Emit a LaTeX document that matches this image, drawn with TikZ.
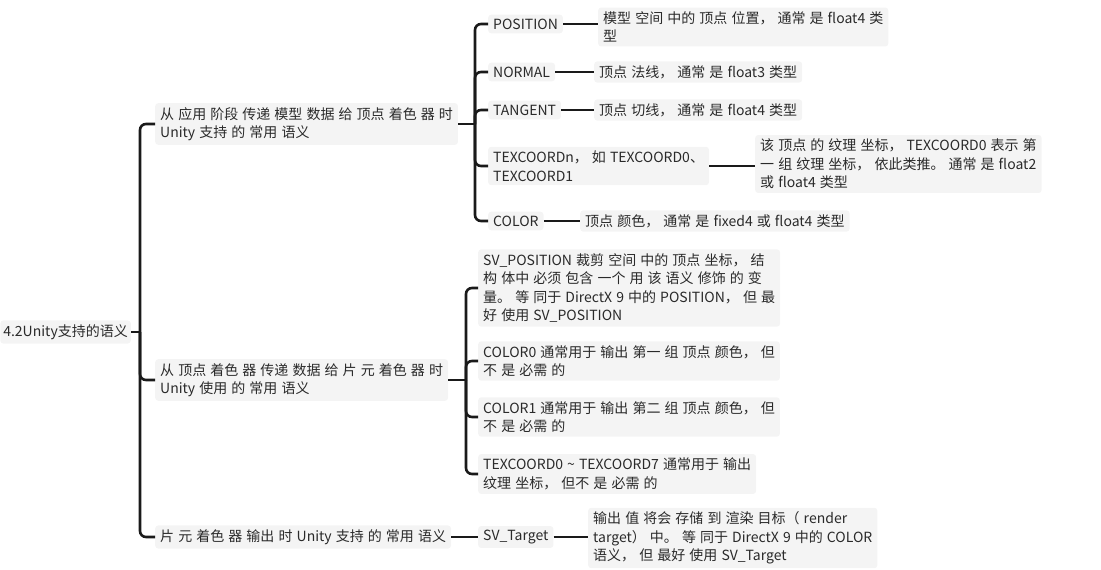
\documentclass[tikz,border=0pt]{standalone}
\usepackage{fontspec}
\setmainfont[WordSpace=1.3]{Noto Sans CJK SC}
\definecolor{txt}{HTML}{2A2A2A}
\definecolor{ln}{HTML}{1A1A1A}
\definecolor{boxbg}{HTML}{F4F4F4}
\begin{document}
\begin{tikzpicture}[x=1pt,y=-1pt,
  every node/.style={font=\fontsize{14}{18.5}\selectfont, text=txt},
  box/.style={fill=boxbg, rounded corners=3pt, inner xsep=5pt, inner ysep=4pt, align=left, anchor=west},
  conn/.style={draw=ln, line width=2.6pt, rounded corners=6pt}]
\useasboundingbox (0,0) rectangle (1101,570);
% trunk positions
\coordinate (t0) at (140,0);
\coordinate (t1) at (475,0);
\coordinate (t2) at (466,0);
% root
\node[box, anchor=east, inner xsep=3pt] (root) at (131,332) {4.2Unity支持的语义};
% level 1
\node[box] (b1) at (155,124) {从 应用 阶段 传递 模型 数据 给 顶点 着色 器 时\\Unity 支持 的 常用 语义};
\node[box] (b2) at (155,380) {从 顶点 着色 器 传递 数据 给 片 元 着色 器 时\\Unity 使用 的 常用 语义};
\node[box] (b3) at (155,537) {片 元 着色 器 输出 时 Unity 支持 的 常用 语义};
% branch 1 children
\node[box] (pos) at (488,24) {POSITION};
\node[box] (posd) at (598,27) {模型 空间 中的 顶点 位置， 通常 是 float4 类\\型};
\node[box] (nor) at (488,72) {NORMAL};
\node[box] (nord) at (594,72) {顶点 法线， 通常 是 float3 类型};
\node[box] (tan) at (488,110) {TANGENT};
\node[box] (tand) at (594,110) {顶点 切线， 通常 是 float4 类型};
\node[box] (tex) at (488,166) {TEXCOORDn， 如 TEXCOORD0、\hspace{12pt}\\TEXCOORD1};
\node[box] (texd) at (755,164) {该 顶点 的 纹理 坐标， TEXCOORD0 表示 第\\一 组 纹理 坐标， 依此类推。 通常 是 float2\\或 float4 类型};
\node[box] (col) at (488,221) {COLOR};
\node[box] (cold) at (580,221) {顶点 颜色， 通常 是 fixed4 或 float4 类型};
% branch 2 children
\node[box] (svp) at (478,288) {SV\_POSITION 裁剪 空间 中的 顶点 坐标， 结\\构 体中 必须 包含 一个 用 该 语义 修饰 的 变\\量。 等 同于 DirectX 9 中的 POSITION， 但 最\\好 使用 SV\_POSITION};
\node[box] (c0) at (478,361) {COLOR0 通常用于 输出 第一 组 顶点 颜色， 但\\不 是 必需 的};
\node[box] (c1) at (478,417) {COLOR1 通常用于 输出 第二 组 顶点 颜色， 但\\不 是 必需 的};
\node[box] (t07) at (478,474) {TEXCOORD0 \textasciitilde{} TEXCOORD7 通常用于 输出\\纹理 坐标， 但不 是 必需 的};
% branch 3 children
\node[box] (svt) at (478,537) {SV\_Target};
\node[box] (svtd) at (588,538) {输出 值 将会 存储 到 渲染 目标（ render\\target） 中。 等 同于 DirectX 9 中的 COLOR\\语义， 但 最好 使用 SV\_Target};
% connectors root
\draw[conn] (root.east) -- (root.east -| t0) coordinate (j0);
\draw[conn] (j0) |- (b1.west);
\draw[conn] (j0) |- (b2.west);
\draw[conn] (j0) |- (b3.west);
% connectors branch 1
\draw[conn] (b1.east) -- (b1.east -| t1) coordinate (j1);
\foreach \c in {pos,nor,tan,tex,col} \draw[conn] (j1) |- (\c.west);
\draw[conn] (pos.east) -- (pos.east -| posd.west);
\draw[conn] (nor.east) -- (nord.west);
\draw[conn] (tan.east) -- (tand.west);
\draw[conn] (tex.east) -- (tex.east -| texd.west);
\draw[conn] (col.east) -- (cold.west);
% connectors branch 2
\draw[conn] (b2.east) -- (b2.east -| t2) coordinate (j2);
\foreach \c in {svp,c0,c1,t07} \draw[conn] (j2) |- (\c.west);
% connectors branch 3
\draw[conn] (b3.east) -- (svt.west);
\draw[conn] (svt.east) -- (svt.east -| svtd.west);
\end{tikzpicture}
\end{document}
